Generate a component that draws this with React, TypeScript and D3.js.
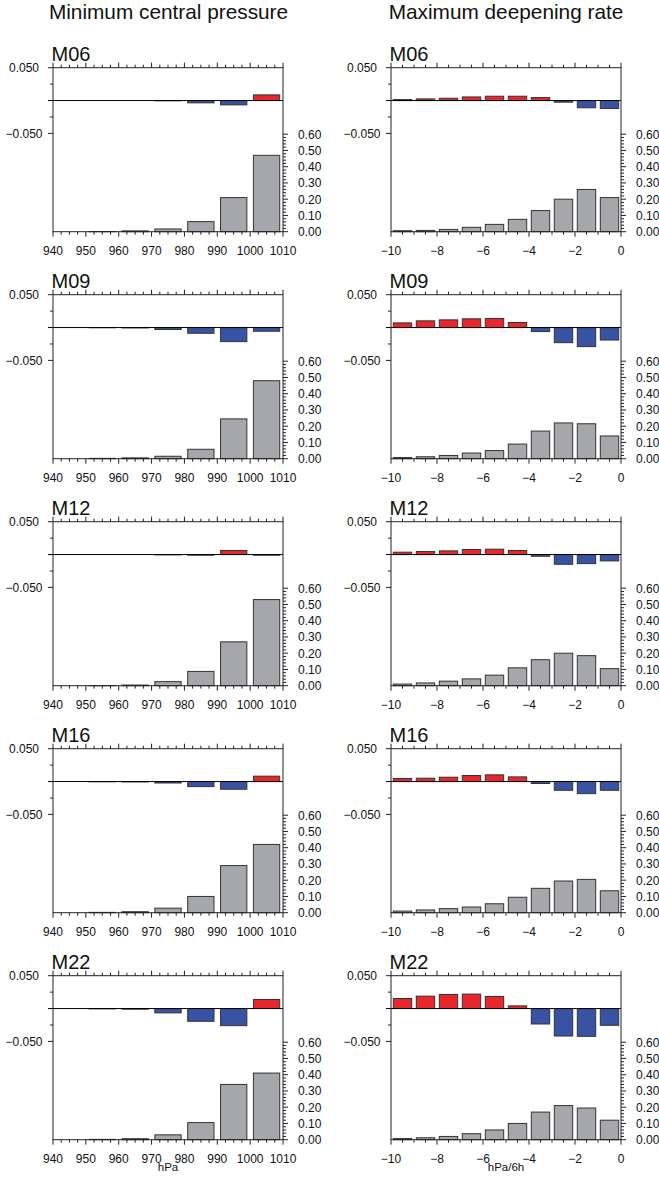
import React from "react";
import * as d3 from "d3";

// ---------- data ----------
const members = ["M06", "M09", "M12", "M16", "M22"];

// Minimum central pressure: bins of 10 hPa starting at these values
const pressureBins = [940, 950, 960, 970, 980, 990, 1000];
const pressureTicks = [940, 950, 960, 970, 980, 990, 1000, 1010];

// Maximum deepening rate: bins of 1 hPa/6h starting at these values
const rateBins = [-10, -9, -8, -7, -6, -5, -4, -3, -2, -1];
const rateTicks = [-10, -8, -6, -4, -2, 0];

const diffTicks = [0.05, -0.05];
const diffTickLabels = ["0.050", "\u22120.050"];
const freqTicks = [0, 0.1, 0.2, 0.3, 0.4, 0.5, 0.6];
const freqTickLabels = ["0.00", "0.10", "0.20", "0.30", "0.40", "0.50", "0.60"];

// difference (red/blue) bars, pressure
const pDiffM06 = [0, 0, 0, -0.0004, -0.0035, -0.0066, 0.0086];
const pDiffM09 = [0, -0.0003, -0.0006, -0.003, -0.0087, -0.0214, -0.0056];
const pDiffM12 = [0, 0, 0, -0.0005, -0.001, 0.0061, -0.001];
const pDiffM16 = [0, -0.0003, -0.0006, -0.0022, -0.0077, -0.0117, 0.0082];
const pDiffM22 = [0, -0.0005, -0.001, -0.0066, -0.0194, -0.026, 0.0138];

// frequency (gray) bars, pressure
const pFreqM06 = [0, 0.001, 0.005, 0.017, 0.062, 0.21, 0.47];
const pFreqM09 = [0, 0.002, 0.005, 0.015, 0.058, 0.245, 0.48];
const pFreqM12 = [0, 0.001, 0.004, 0.025, 0.088, 0.27, 0.53];
const pFreqM16 = [0, 0.002, 0.006, 0.028, 0.1, 0.29, 0.42];
const pFreqM22 = [0, 0.002, 0.006, 0.03, 0.105, 0.34, 0.41];

// difference bars, deepening rate
const rDiffM06 = [0.0015, 0.0025, 0.0035, 0.0055, 0.0066, 0.0066, 0.0045, -0.0025, -0.011, -0.012];
const rDiffM09 = [0.0071, 0.0102, 0.0117, 0.0133, 0.0138, 0.0077, -0.0061, -0.023, -0.029, -0.019];
const rDiffM12 = [0.0036, 0.0046, 0.0056, 0.0077, 0.0082, 0.0061, -0.0026, -0.0148, -0.0138, -0.0097];
const rDiffM16 = [0.0046, 0.0051, 0.0066, 0.0092, 0.0102, 0.0071, -0.003, -0.0133, -0.0184, -0.0133];
const rDiffM22 = [0.0153, 0.0189, 0.0214, 0.022, 0.0184, 0.0041, -0.0235, -0.0418, -0.0423, -0.0255];

// frequency bars, deepening rate
const rFreqM06 = [0.006, 0.008, 0.014, 0.027, 0.045, 0.076, 0.13, 0.2, 0.26, 0.21];
const rFreqM09 = [0.007, 0.012, 0.02, 0.035, 0.05, 0.09, 0.17, 0.22, 0.215, 0.14];
const rFreqM12 = [0.01, 0.017, 0.028, 0.042, 0.065, 0.11, 0.16, 0.2, 0.185, 0.105];
const rFreqM16 = [0.01, 0.017, 0.025, 0.035, 0.055, 0.095, 0.15, 0.195, 0.205, 0.135];
const rFreqM22 = [0.007, 0.012, 0.02, 0.037, 0.06, 0.1, 0.17, 0.21, 0.195, 0.12];

const pDiff = [pDiffM06, pDiffM09, pDiffM12, pDiffM16, pDiffM22];
const pFreq = [pFreqM06, pFreqM09, pFreqM12, pFreqM16, pFreqM22];
const rDiff = [rDiffM06, rDiffM09, rDiffM12, rDiffM16, rDiffM22];
const rFreq = [rFreqM06, rFreqM09, rFreqM12, rFreqM16, rFreqM22];

// ---------- layout ----------
const W = 659;
const H = 1185;
const FONT = "'Liberation Sans', Arial, Helvetica, sans-serif";
const PANEL_W = 230;
const PANEL_H = 164;
const ROW0 = 67.7;
const ROW_STEP = 227;
const COL_X = [53, 391];
const RED = "#e8262b";
const BLUE = "#3953a4";
const GRAY = "#a6a7aa";
const LINE = "#222";

const fmtX = (v: number) => (v < 0 ? "\u2212" + Math.abs(v) : String(v));

type PanelProps = {
  x0: number;
  y0: number;
  label: string;
  domain: [number, number];
  bins: number[];
  binWidth: number;
  ticks: number[];
  minorStep: number;
  diff: number[];
  freq: number[];
};

function Panel({ x0, y0, label, domain, bins, binWidth, ticks, minorStep, diff, freq }: PanelProps) {
  const x = d3.scaleLinear().domain(domain).range([x0, x0 + PANEL_W]);
  const bottom = y0 + PANEL_H;
  const yDiff = d3.scaleLinear().domain([-0.05, 0.05]).range([y0 + 65.7, y0]);
  const yFreq = d3.scaleLinear().domain([0, 0.6]).range([bottom, bottom - 97.5]);
  const right = x0 + PANEL_W;
  const minorX = d3.range(domain[0], domain[1] + minorStep / 2, minorStep);
  const minorF = d3.range(0, 0.6001, 0.02);
  const minorD = [0.025, -0.025];
  const zero = yDiff(0);

  return (
    <g>
      <text x={x0 - 1.5} y={y0 - 6.8} fontSize={20} fontFamily={FONT} fill="#111">
        {label}
      </text>
      {/* gray frequency bars */}
      {bins.map((b, i) => {
        const v = freq[i];
        const xa = x(b + binWidth * 0.1);
        const xb = x(b + binWidth * 0.9);
        return (
          <rect
            key={"f" + i}
            x={xa}
            y={yFreq(v)}
            width={xb - xa}
            height={bottom - yFreq(v)}
            fill={GRAY}
            stroke="#333"
            strokeWidth={1}
          />
        );
      })}
      {/* difference bars */}
      {bins.map((b, i) => {
        const v = diff[i];
        const xa = x(b + binWidth * 0.1);
        const xb = x(b + binWidth * 0.9);
        const ya = Math.min(yDiff(v), zero);
        const h = Math.abs(yDiff(v) - zero);
        return (
          <rect
            key={"d" + i}
            x={xa}
            y={ya}
            width={xb - xa}
            height={h}
            fill={v >= 0 ? RED : BLUE}
            stroke="#333"
            strokeWidth={1}
          />
        );
      })}
      {/* zero line */}
      <line x1={x0 - 5} x2={right} y1={zero} y2={zero} stroke="#000" strokeWidth={1} />
      {/* frame */}
      <rect x={x0} y={y0} width={PANEL_W} height={PANEL_H} fill="none" stroke={LINE} strokeWidth={1} />
      {/* x ticks: top and bottom */}
      {minorX.map((v, i) => {
        const isMajor = ticks.some((t) => Math.abs(t - v) < 1e-6);
        const len = isMajor ? 5 : 3;
        return (
          <g key={"xt" + i}>
            <line x1={x(v)} x2={x(v)} y1={y0} y2={y0 - len} stroke={LINE} strokeWidth={1} />
            <line x1={x(v)} x2={x(v)} y1={bottom} y2={bottom + len} stroke={LINE} strokeWidth={1} />
          </g>
        );
      })}
      {ticks.map((t) => (
        <text
          key={"xl" + t}
          x={x(t)}
          y={bottom + 23}
          fontSize={12}
          fontFamily={FONT}
          textAnchor="middle"
          fill="#111"
        >
          {fmtX(t)}
        </text>
      ))}
      {/* left diff axis */}
      {diffTicks.map((t, i) => (
        <g key={"dl" + i}>
          <line x1={x0 - 5} x2={x0} y1={yDiff(t)} y2={yDiff(t)} stroke={LINE} strokeWidth={1} />
          <text
            x={x0 - 29}
            y={yDiff(t) + 4.3}
            fontSize={12}
            fontFamily={FONT}
            textAnchor="middle"
            fill="#111"
          >
            {diffTickLabels[i]}
          </text>
        </g>
      ))}
      {minorD.map((t) => (
        <line key={"dm" + t} x1={x0 - 3} x2={x0} y1={yDiff(t)} y2={yDiff(t)} stroke={LINE} strokeWidth={1} />
      ))}
      {/* right frequency axis */}
      {minorF.map((v, i) => {
        const isMajor = freqTicks.some((t) => Math.abs(t - v) < 1e-6);
        return (
          <line
            key={"fm" + i}
            x1={right}
            x2={right + (isMajor ? 5 : 3)}
            y1={yFreq(v)}
            y2={yFreq(v)}
            stroke={LINE}
            strokeWidth={1}
          />
        );
      })}
      {freqTicks.map((t, i) => (
        <text
          key={"fl" + i}
          x={right + 15}
          y={yFreq(t) + 4.3}
          fontSize={12}
          fontFamily={FONT}
          fill="#111"
        >
          {freqTickLabels[i]}
        </text>
      ))}
    </g>
  );
}

export default function App() {
  const lastBottom = ROW0 + ROW_STEP * (members.length - 1) + PANEL_H;
  return (
    <svg
      width={W}
      height={H}
      viewBox={`0 0 ${W} ${H}`}
      style={{ position: "absolute", left: 0, top: 0, background: "#fff" }}
    >
      <rect x={0} y={0} width={W} height={H} fill="#fff" />
      <text x={168.5} y={19} fontSize={20.8} fontFamily={FONT} textAnchor="middle" fill="#111">
        Minimum central pressure
      </text>
      <text x={506} y={19} fontSize={20.8} fontFamily={FONT} textAnchor="middle" fill="#111">
        Maximum deepening rate
      </text>
      {members.map((m, r) => {
        const y0 = ROW0 + ROW_STEP * r;
        return (
          <g key={m}>
            <Panel
              x0={COL_X[0]}
              y0={y0}
              label={m}
              domain={[940, 1010]}
              bins={pressureBins}
              binWidth={10}
              ticks={pressureTicks}
              minorStep={2.5}
              diff={pDiff[r]}
              freq={pFreq[r]}
            />
            <Panel
              x0={COL_X[1]}
              y0={y0}
              label={m}
              domain={[-10, 0]}
              bins={rateBins}
              binWidth={1}
              ticks={rateTicks}
              minorStep={0.5}
              diff={rDiff[r]}
              freq={rFreq[r]}
            />
          </g>
        );
      })}
      <text x={COL_X[0] + PANEL_W / 2} y={lastBottom + 31.5} fontSize={11.5} fontFamily={FONT} textAnchor="middle" fill="#111">
        hPa
      </text>
      <text x={COL_X[1] + PANEL_W / 2} y={lastBottom + 31.5} fontSize={11.5} fontFamily={FONT} textAnchor="middle" fill="#111">
        hPa/6h
      </text>
    </svg>
  );
}
